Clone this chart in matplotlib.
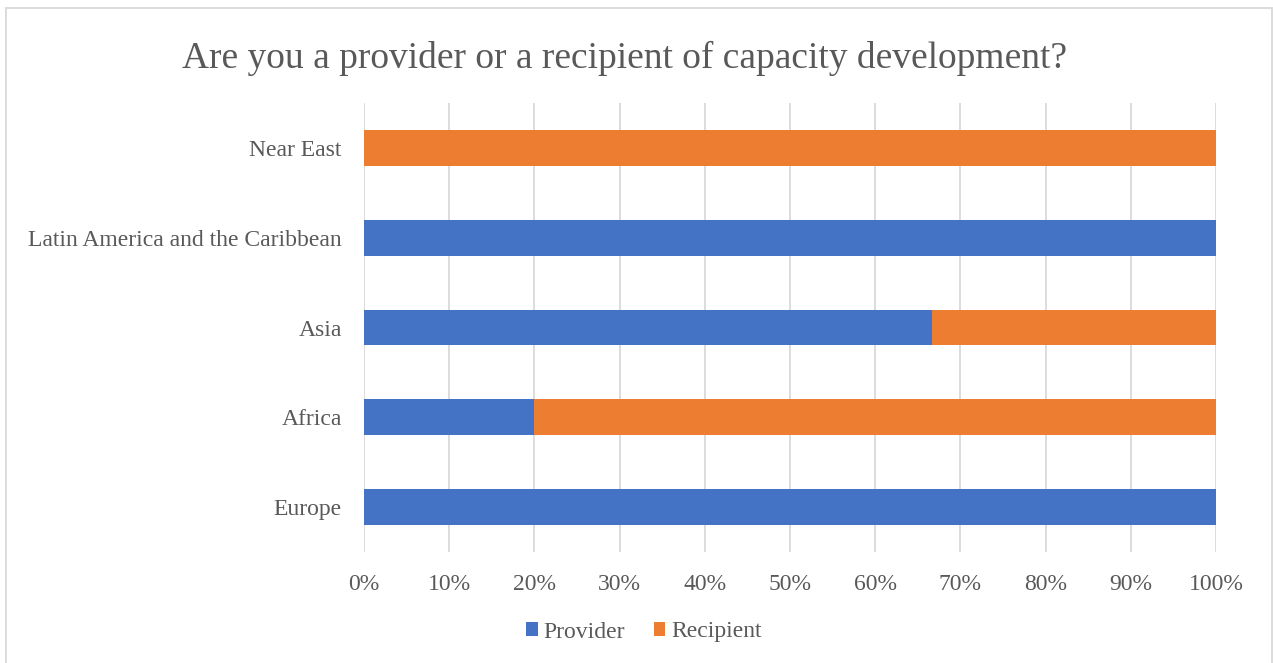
import matplotlib.pyplot as plt
from matplotlib.patches import Rectangle
from matplotlib.ticker import PercentFormatter

regions = ['Europe', 'Africa', 'Asia', 'Latin America and the Caribbean', 'Near East']
provider = [1.0, 0.2, 2/3, 1.0, 0.0]
recipient = [0.0, 0.8, 1/3, 0.0, 1.0]

blue = '#4472C4'
orange = '#ED7D31'
grey = '#595959'

plt.rcParams['font.family'] = ['Liberation Serif', 'DejaVu Serif']

fig = plt.figure(figsize=(12.73, 6.63), dpi=100)
ax = fig.add_axes([364/1273, 1 - 552/663, 852/1273, 449/663])

ax.barh(regions, provider, height=0.4, color=blue, label='Provider', zorder=3)
ax.barh(regions, recipient, left=provider, height=0.4, color=orange, label='Recipient', zorder=3)

ax.set_xlim(0, 1)
ax.set_ylim(-0.5, 4.5)
ax.set_xticks([i/10 for i in range(11)])
ax.xaxis.set_major_formatter(PercentFormatter(1.0, decimals=0))
ax.grid(axis='x', color='#D9D9D9', linewidth=1.3, zorder=0)
for s in ax.spines.values():
    s.set_visible(False)
ax.tick_params(axis='both', length=0, labelsize=17, labelcolor=grey)
ax.tick_params(axis='x', pad=16)
ax.tick_params(axis='y', pad=16)

fig.text(625/1273, 1 - 58/663, 'Are you a provider or a recipient of capacity development?',
         ha='center', va='center', fontsize=27, color=grey)

fig.legend(loc='center', bbox_to_anchor=(644/1273, 1 - 632/663), ncol=2, frameon=False,
           fontsize=17, labelcolor=grey, handlelength=0.5, handleheight=0.5,
           handletextpad=0.25, columnspacing=1.2)

fig.patches.append(Rectangle((6/1273, -0.02), 1266/1273, 1 - 8/663 + 0.02,
                             transform=fig.transFigure, fill=False,
                             edgecolor='#D9D9D9', linewidth=1.3))

fig.savefig('out.png', dpi=100)
